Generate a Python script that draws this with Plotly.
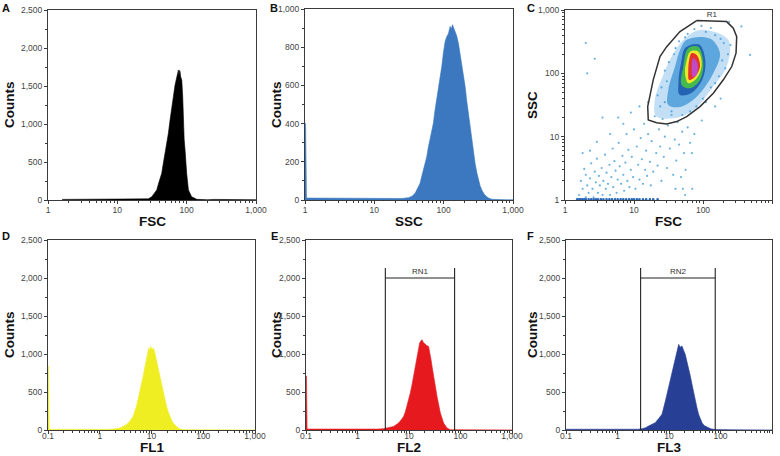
import plotly.graph_objects as go

# ---------------- DATA ----------------
# Panel A: FSC histogram
fsc_x = [1.6, 3, 6, 10, 20, 28, 31.4, 34, 37, 40, 43.7, 46, 48.8, 52, 54.5, 57.6, 61, 64.3, 68, 70, 71.9,
         74, 76, 77.5, 79, 80.3, 82, 85, 87.7, 89.6, 92, 94.8, 97, 100, 106, 118, 140, 160, 200, 250, 300, 400, 1000]
fsc_y = [8, 8, 8, 8, 8, 15, 43, 85, 132, 240, 351, 480, 614, 760, 877, 1053, 1184, 1360, 1513, 1560, 1601,
         1650, 1711, 1640, 1705, 1690, 1620, 1579, 1360, 965, 800, 658, 480, 351, 132, 43, 9, 5, 3, 8, 4, 6, 3]

# Panel B: SSC histogram
ssc_x = [1, 1.02, 1.05, 2, 4, 8, 15, 25, 31, 35, 38.7, 42, 45.7, 48, 51, 54, 57, 60, 63.7, 67, 71, 75, 79.5, 84,
         88.7, 94, 99, 105, 111, 117, 124, 129, 134, 140, 146, 154, 163, 172, 182, 193, 204, 215, 227, 240, 254,
         270, 284, 300, 317, 335, 355, 385, 419, 450, 494, 600, 800, 1000]
ssc_y = [400, 400, 10, 9, 8, 7, 6, 8, 12, 20, 35, 60, 88, 120, 157, 195, 227, 275, 315, 355, 402, 470, 524, 590,
         647, 700, 769, 830, 856, 870, 909, 895, 918, 900, 883, 860, 822, 770, 717, 660, 594, 520, 455, 380, 315,
         250, 192, 145, 105, 75, 52, 30, 17, 9, 4, 2, 1, 1]

# Panel C: FSC vs SSC dot plot
gate_r1_x = [81, 220, 275, 308, 301, 261, 197, 141, 90.5, 58, 41.6, 29.8, 21.3, 16.1, 15.8, 19, 23.8, 29.8, 46.4, 81]
gate_r1_y = [680, 656, 516, 380, 208, 128, 79, 48.5, 29.8, 20.7, 17.3, 15.9, 16.6, 18.4, 29.8, 79, 184, 264, 456, 680]

cloud_outer_x = [90, 233, 220, 141, 72, 37, 21, 20, 26, 35, 52, 90]
cloud_outer_y = [485, 337, 128, 62, 26, 19.5, 21, 38, 89, 182, 339, 485]
cloud_mid_x = [58, 126, 176, 141, 81, 46.5, 31.4, 31.4, 39.3, 46.5, 58]
cloud_mid_y = [339, 355, 209, 100, 42.7, 29.5, 31.6, 55, 128, 234, 339]
cloud_dark_x = [56, 88, 108, 98, 66, 46, 44, 48, 56]
cloud_dark_y = [255, 285, 160, 80, 48, 46, 70, 145, 255]
cloud_green_x = [61.2, 85.5, 101, 90.6, 64.9, 49.1, 51.8, 61.2]
cloud_green_y = [251, 263, 145, 78.7, 58.2, 65.6, 128, 251]
cloud_yellow_x = [64.9, 85.5, 95.7, 81.1, 61.2, 54.8, 58.1, 64.9]
cloud_yellow_y = [220, 220, 136, 83.6, 69.7, 100, 162, 220]
cloud_red_x = [68.5, 81.1, 90.6, 76.6, 63.1, 61.2, 63.1, 68.5]
cloud_red_y = [209, 195, 128, 88.7, 78.7, 113, 162, 209]
cloud_magenta_x = [72.4, 82.6, 81.1, 70.8, 68.5, 72.4]
cloud_magenta_y = [174, 145, 94.4, 88.7, 128, 174]

sparse_x = [1.6, 1.7, 1.8, 1.9, 2.0, 2.0, 2.1, 2.2, 2.3, 2.4, 2.5, 2.6, 2.7, 2.8, 2.9, 3.0, 3.1, 3.2, 3.4, 3.5,
            3.6, 3.8, 3.9, 4.0, 4.2, 4.4, 4.5, 4.7, 4.9, 5.0, 5.2, 5.4, 5.6, 5.8, 6.0, 6.2, 6.5, 6.8, 7.0, 7.2,
            7.5, 7.8, 8.0, 8.3, 8.6, 9.0, 9.3, 9.7, 10, 10.5, 11, 11.5, 12, 12.5, 13, 13.5, 14, 14.5, 15, 15.5,
            16, 17, 17.5, 18, 19, 20, 21, 22, 23, 24, 25, 26, 27, 28, 30, 31, 33, 35, 37, 39,
            41, 43, 45, 48, 50, 53, 56, 60, 65, 70, 75, 40, 55, 3.5, 5.9, 4.5, 2.9, 2.3, 1.8, 7.0,
            9.0, 12, 16, 2.0, 2.1, 2.7, 480, 360, 240, 180, 150, 96, 69, 51]
sparse_y = [1.2, 2.0, 1.5, 3.1, 1.1, 2.5, 1.7, 1.3, 2.2, 3.8, 1.5, 1.1, 2.8, 1.9, 4.5, 1.3, 2.4, 1.7, 3.2, 1.2,
            2.0, 5.2, 1.5, 2.7, 1.8, 3.6, 1.2, 2.3, 6.5, 1.6, 4.1, 2.9, 1.3, 2.1, 8.0, 3.4, 1.8, 5.0, 2.5, 1.4,
            3.9, 11, 2.0, 6.2, 1.6, 3.0, 4.8, 2.3, 13, 1.5, 7.0, 3.6, 2.1, 9.5, 4.4, 1.8, 16, 3.0, 6.0, 2.4,
            11, 4.0, 1.7, 8.5, 2.8, 21, 5.5, 3.5, 13, 7.0, 2.0, 19, 4.8, 10, 3.2, 15, 6.5, 22, 2.5, 9.0,
            4.2, 17, 7.5, 2.3, 12, 5.5, 3.0, 14, 8.0, 1.5, 11, 1.5, 1.2, 20, 20, 11, 8.3, 6.0, 5.5, 16,
            24, 30, 35, 300, 100, 170, 195, 550, 650, 40, 30, 18, 5.5, 1.5]

edge_x = [1.5, 1.6, 1.7, 1.8, 1.9, 2.0, 2.2, 2.4, 2.6, 2.8, 3.0, 3.3, 3.6, 4.0, 4.4, 4.8, 5.3, 5.8, 6.4, 7.0,
          7.7, 8.5, 9.3, 10, 11, 12, 13.5, 15, 17, 19, 22]
edge_y = [1.03, 1.03, 1.03, 1.03, 1.03, 1.03, 1.03, 1.03, 1.03, 1.03, 1.03, 1.03, 1.03, 1.03, 1.03, 1.03,
          1.03, 1.03, 1.03, 1.03, 1.03, 1.03, 1.03, 1.03, 1.03, 1.03, 1.03, 1.03, 1.03, 1.03, 1.03]

speckle_x = [25, 22, 28, 32, 40, 45, 60, 75, 110, 150, 200, 230, 210, 170, 130, 100, 80, 50, 35, 24, 30, 38,
             55, 95, 130, 180, 250, 190, 150, 110, 65, 28]
speckle_y = [60, 45, 110, 150, 250, 320, 420, 500, 450, 400, 300, 200, 120, 90, 60, 40, 30, 22, 25, 30, 75, 200,
             370, 560, 520, 350, 280, 160, 70, 35, 25, 35]

# Panel D: FL1 histogram
fl1_x = [0.1, 0.102, 0.105, 0.2, 0.5, 1, 1.5, 2.0, 2.44, 2.8, 3.28, 3.8, 4.4, 5.13, 5.94, 6.89, 7.4, 8.0, 8.4,
         8.87, 9.2, 9.57, 10.3, 10.9, 11.6, 12.2, 12.8, 13.6, 14.5, 15.6, 16.8, 18, 19.5, 21, 22.6, 24.3, 26.2,
         29, 32.7, 36, 40.8, 50, 70, 100, 200, 1000]
fl1_y = [840, 840, 8, 6, 5, 5, 8, 15, 26, 45, 70, 115, 179, 311, 487, 705, 820, 925, 1010, 1079, 1040, 1100,
         1057, 1080, 1013, 960, 882, 800, 705, 600, 487, 400, 311, 240, 179, 130, 92, 55, 26, 12, 4, 2, 1, 1, 1, 1]

# Panel E: FL2 histogram
fl2_x = [0.1, 0.102, 0.105, 0.2, 0.4, 0.8, 1.5, 2.5, 3.2, 3.74, 4.3, 5.02, 5.6, 6.28, 7, 7.85, 8.5, 9.14, 9.8,
         10.6, 11.4, 12.3, 13.3, 14.3, 15.2, 16.1, 17, 17.9, 19, 20.7, 22.3, 24, 25.5, 26.8, 28.3, 30, 32.5, 35,
         37.8, 40.6, 47, 54.7, 63.4, 80, 120, 200, 1000]
fl2_y = [710, 710, 12, 10, 8, 10, 8, 12, 18, 26, 35, 47, 70, 92, 130, 179, 240, 311, 390, 487, 590, 705, 830,
         969, 1060, 1145, 1170, 1188, 1150, 1123, 1110, 1100, 1020, 925, 820, 705, 570, 442, 330, 224, 92, 26, 4,
         3, 5, 2, 1]
rn1_x = [3.47, 76.8]
rn1_bar = 2000
rn1_top = 2130

# Panel F: FL3 histogram
fl3_x = [0.1, 0.2, 0.4, 0.8, 1.5, 2.5, 3.0, 3.5, 4.0, 4.7, 5.4, 6.3, 7.3, 8.5, 9.8, 10.6, 11.4, 12.3, 13.3, 14.3,
         15.4, 16.5, 17.9, 19.2, 20.7, 22.3, 24, 26, 28, 30, 32.4, 35, 37.6, 40.5, 43.8, 48, 54.7, 65, 80, 120,
         200, 1000]
fl3_y = [10, 10, 8, 10, 8, 10, 18, 30, 52, 70, 96, 150, 206, 381, 557, 660, 776, 860, 952, 1040, 1127, 1090,
         1105, 1050, 995, 900, 820, 710, 600, 490, 381, 290, 206, 150, 96, 60, 39, 15, 6, 3, 2, 1]
rn2_x = [2.81, 79]
rn2_bar = 2000
rn2_top = 2130

# ---------------- FIGURE ----------------
W, H = 780, 456
FONT = "Liberation Sans"
AX = "#3a3a3a"

fig = go.Figure()


def hist(x, y, color, ax):
    fig.add_trace(go.Scatter(x=x, y=y, mode="lines", fill="tozeroy", fillcolor=color,
                             line=dict(color=color, width=0.6), xaxis="x" + ax, yaxis="y" + ax,
                             hoverinfo="skip"))


hist(fsc_x, fsc_y, "#000000", "")
hist(ssc_x, ssc_y, "#3b78c0", "2")
hist(fl1_x, fl1_y, "#eeee22", "4")
hist(fl2_x, fl2_y, "#e6191e", "5")
hist(fl3_x, fl3_y, "#283f96", "6")

# Panel C traces
for cx, cy, col in [(cloud_outer_x, cloud_outer_y, "rgba(120,185,232,0.45)"),
                    (cloud_mid_x, cloud_mid_y, "rgba(60,148,214,0.75)"),
                    (cloud_dark_x, cloud_dark_y, "#2462b2"),
                    (cloud_green_x, cloud_green_y, "#45b84e"),
                    (cloud_yellow_x, cloud_yellow_y, "#ece92a"),
                    (cloud_red_x, cloud_red_y, "#e4342a"),
                    (cloud_magenta_x, cloud_magenta_y, "#c04ac8")]:
    fig.add_trace(go.Scatter(x=cx, y=cy, mode="lines", fill="toself", fillcolor=col,
                             line=dict(width=0, shape="spline", smoothing=1.0), xaxis="x3", yaxis="y3",
                             hoverinfo="skip"))
fig.add_trace(go.Scatter(x=sparse_x, y=sparse_y, mode="markers",
                         marker=dict(size=2.2, color="#5aaade", opacity=0.9), xaxis="x3", yaxis="y3",
                         hoverinfo="skip"))
fig.add_trace(go.Scatter(x=speckle_x, y=speckle_y, mode="markers",
                         marker=dict(size=2.2, color="#4aa0dc", opacity=0.85), xaxis="x3", yaxis="y3",
                         hoverinfo="skip"))
fig.add_trace(go.Scatter(x=edge_x, y=edge_y, mode="markers",
                         marker=dict(size=2.6, color="#2a68b8"), xaxis="x3", yaxis="y3", hoverinfo="skip"))
fig.add_trace(go.Scatter(x=gate_r1_x, y=gate_r1_y, mode="lines", line=dict(color="#333333", width=1.5),
                         xaxis="x3", yaxis="y3", hoverinfo="skip"))
fig.add_trace(go.Scatter(x=[134], y=[830], mode="text", text=["R1"],
                         textfont=dict(size=8, color="#333333", family=FONT), xaxis="x3", yaxis="y3",
                         hoverinfo="skip"))

# Gates RN1 / RN2
for gx, bar, top, ax, lab in [(rn1_x, rn1_bar, rn1_top, "5", "RN1"), (rn2_x, rn2_bar, rn2_top, "6", "RN2")]:
    for xv in gx:
        fig.add_trace(go.Scatter(x=[xv, xv], y=[0, top], mode="lines", line=dict(color="#222222", width=1.1),
                                 xaxis="x" + ax, yaxis="y" + ax, hoverinfo="skip"))
    fig.add_trace(go.Scatter(x=gx, y=[bar, bar], mode="lines", line=dict(color="#222222", width=1.1),
                             xaxis="x" + ax, yaxis="y" + ax, hoverinfo="skip"))
    fig.add_trace(go.Scatter(x=[(gx[0] * gx[1]) ** 0.5], y=[bar + 75], mode="text", text=[lab],
                             textfont=dict(size=8, color="#333333", family=FONT), xaxis="x" + ax,
                             yaxis="y" + ax, hoverinfo="skip"))

# ---------------- AXES ----------------
panels = {
    "": (48, 256, 10, 200),
    "2": (305, 513, 9, 200),
    "3": (565, 772, 10, 200),
    "4": (48, 255, 240, 430),
    "5": (306, 512, 240, 430),
    "6": (566, 772, 240, 430),
}
tickfont = dict(size=8.5, color="#444444", family=FONT)
common = dict(showline=True, mirror=True, linecolor=AX, linewidth=1, ticks="outside", ticklen=3,
              tickwidth=1, tickcolor=AX, tickfont=tickfont, showgrid=False, zeroline=False, fixedrange=True,
              automargin=False)

log3_vals = [1, 10, 100, 1000]
log3_text = ["1", "10", "100", "1,000"]
log4_vals = [0.1, 1, 10, 100, 1000]
log4_text = ["0.1", "1", "10", "100", "1,000"]


def px2x(px):
    return px / W


def px2y(py):
    return 1 - py / H


layout_axes = {}
for ax, (x0, x1, y0, y1) in panels.items():
    xd = [px2x(x0), px2x(x1)]
    yd = [px2y(y1), px2y(y0)]
    if ax in ("", "2", "3"):
        xr, tv, tt, so = [0, 3], log3_vals, log3_text, -1
    else:
        xr, tv, tt, so = [-1, 3], log4_vals, log4_text, -5
    layout_axes["xaxis" + ax] = dict(domain=xd, type="log", range=xr, anchor="y" + ax, tickmode="array",
                                     tickvals=tv, ticktext=tt, ticklabelstandoff=so,
                                     minor=dict(ticks="outside", ticklen=2, tickcolor=AX, dtick="D1",
                                                showgrid=False), **common)
    if ax == "3":
        layout_axes["yaxis" + ax] = dict(domain=yd, type="log", range=[0, 3], anchor="x" + ax,
                                         tickmode="array", tickvals=log3_vals, ticktext=log3_text,
                                         minor=dict(ticks="outside", ticklen=2, tickcolor=AX, dtick="D1",
                                                    showgrid=False), **common)
    elif ax == "2":
        layout_axes["yaxis" + ax] = dict(domain=yd, range=[0, 1000], anchor="x" + ax, tickmode="linear",
                                         dtick=200, tickformat=",",
                                         minor=dict(ticks="outside", ticklen=2, tickcolor=AX, dtick=100),
                                         **common)
    else:
        layout_axes["yaxis" + ax] = dict(domain=yd, range=[0, 2500], anchor="x" + ax, tickmode="linear",
                                         dtick=500, tickformat=",",
                                         minor=dict(ticks="outside", ticklen=2, tickcolor=AX, dtick=250),
                                         **common)

# ---------------- TEXT ----------------
ann = []


def ptext(x, y, text, size, angle=0, bold=True):
    ann.append(dict(x=px2x(x), y=px2y(y), xref="paper", yref="paper",
                    text=("<b>%s</b>" % text) if bold else text,
                    showarrow=False, xanchor="center", yanchor="middle", textangle=angle,
                    font=dict(size=size, color="#111111", family=FONT)))


for lx, ly, t in [(6, 8, "A"), (274, 8, "B"), (531, 8, "C"), (6, 236, "D"), (274, 236, "E"), (530, 236, "F")]:
    ptext(lx, ly, t, 11)
for lx, ly, t in [(9, 105, "Counts"), (276, 105, "Counts"), (532, 105, "SSC"),
                  (9, 335, "Counts"), (276, 335, "Counts"), (532, 335, "Counts")]:
    ptext(lx, ly, t, 13.5, angle=-90)
for lx, ly, t in [(152, 221, "FSC"), (409, 221, "SSC"), (668, 221, "FSC"),
                  (152, 447, "FL1"), (409, 447, "FL2"), (669, 447, "FL3")]:
    ptext(lx, ly, t, 13.5)

fig.update_layout(template="none", width=W, height=H, margin=dict(l=0, r=0, t=0, b=0), showlegend=False,
                  plot_bgcolor="white", paper_bgcolor="white", annotations=ann, hovermode=False,
                  **layout_axes)

fig.write_html("out.html", config={"displayModeBar": False, "staticPlot": True},
               post_script="document.body.style.margin='0px';")
